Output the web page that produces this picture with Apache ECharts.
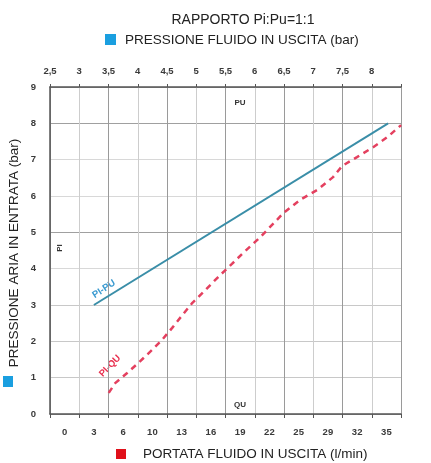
<!DOCTYPE html>
<html>
<head>
<meta charset="utf-8">
<script src="https://cdn.jsdelivr.net/npm/echarts@6/dist/echarts.min.js"></script>
<style>
html,body{margin:0;padding:0;background:#fff;}
#c{width:431px;height:463px;}
</style>
</head>
<body>
<div id="c"></div>
<script>
// Tick labels
const puTicks = [2.5, 3, 3.5, 4, 4.5, 5, 5.5, 6, 6.5, 7, 7.5, 8];      // top axis (bar)
const flowLabels = ['0','3','6','10','13','16','19','22','25','29','32','35']; // bottom axis (l/min)
// PI-PU line: outlet fluid pressure (top axis) vs inlet air pressure
const piPuOut = [3.25, 8.28];
const piPuIn  = [3, 8];
// PI-QU line: outlet flow (l/min) vs inlet air pressure
const piQuFlow = [4.8, 5.5, 6.8, 8.0, 9.5, 10.6, 11.7, 12.8, 13.9, 15.3, 16.7, 18.2, 19.4, 21.3, 23.8, 25.6, 27.5, 29.2, 30.2, 31.8, 33.6, 35.1, 36.6];
const piQuIn   = [0.58, 0.85, 1.13, 1.40, 1.76, 2.04, 2.37, 2.72, 3.06, 3.41, 3.77, 4.13, 4.43, 4.87, 5.53, 5.89, 6.17, 6.52, 6.83, 7.07, 7.35, 7.62, 7.95];

const flowStep = 35 / 11;
const FONT = '"Liberation Sans", Arial, sans-serif';
const tickLabel = {color:'#3a3a3a', fontSize:9.5, fontWeight:'bold', fontFamily:FONT};

const chart = echarts.init(document.getElementById('c'), null, {renderer:'canvas'});
chart.setOption({
  animation:false,
  backgroundColor:'#fff',
  grid:{left:50, right:30, top:87, bottom:49},
  xAxis:[
    { type:'value', position:'top', min:2.5, max:8.5, interval:0.5,
      axisLine:{show:true, onZero:false, lineStyle:{color:'#555', width:1.5}},
      axisTick:{show:true, length:3, lineStyle:{color:'#555'}},
      axisLabel:{...tickLabel, margin:11,
        formatter:v => puTicks.indexOf(v) >= 0 ? String(v).replace('.', ',') : ''},
      splitLine:{show:true, lineStyle:{color:['#9a9a9a','#cdcdcd'], width:1}}
    },
    { type:'category', position:'bottom', data:flowLabels, boundaryGap:true,
      axisLine:{show:true, onZero:false, lineStyle:{color:'#555', width:1.5}},
      axisTick:{show:true, length:4, interval:0, lineStyle:{color:'#555'}},
      axisLabel:{...tickLabel, margin:13, interval:0},
      splitLine:{show:false}
    },
    { type:'value', show:false, position:'bottom', min:-0.5*flowStep, max:11.5*flowStep,
      axisLine:{onZero:false}, splitLine:{show:false} }
  ],
  yAxis:{ type:'value', min:0, max:9, interval:1,
    axisLine:{show:true, onZero:false, lineStyle:{color:'#555', width:1.5}},
    axisTick:{show:false},
    axisLabel:{...tickLabel, margin:14},
    splitLine:{show:true, lineStyle:{color:['#999','#c8c8c8','#c8c8c8','#c8c8c8','#d8d8d8','#a0a0a0','#d8d8d8','#d8d8d8','#a0a0a0','#999'], width:1}}
  },
  series:[
    { type:'line', xAxisIndex:0, showSymbol:false, symbol:'none',
      data: piPuOut.map((x,i)=>[x, piPuIn[i]]),
      lineStyle:{color:'#3a8ea8', width:2}
    },
    { type:'line', xAxisIndex:2, showSymbol:false, symbol:'none',
      data: piQuFlow.map((x,i)=>[x, piQuIn[i]]),
      lineStyle:{color:'#e4405f', width:2.5, type:[6,5]}
    }
  ],
  graphic:[
    {type:'text', x:243, y:20, style:{text:'RAPPORTO Pi:Pu=1:1', font:'14px '+FONT, fill:'#222', textAlign:'center', textVerticalAlign:'middle'}},
    {type:'rect', shape:{x:105, y:34, width:11, height:11}, style:{fill:'#1a9fe0'}},
    {type:'text', x:125, y:40, style:{text:'PRESSIONE FLUIDO IN USCITA (bar)', font:'13.5px '+FONT, fill:'#222', textAlign:'left', textVerticalAlign:'middle'}},
    {type:'rect', shape:{x:116, y:449, width:10, height:10}, style:{fill:'#e0101a'}},
    {type:'text', x:143, y:454, style:{text:'PORTATA FLUIDO IN USCITA (l/min)', font:'13.5px '+FONT, fill:'#222', textAlign:'left', textVerticalAlign:'middle'}},
    {type:'rect', shape:{x:3, y:376, width:10, height:11}, style:{fill:'#1a9fe0'}},
    {type:'text', x:14, y:253, rotation:Math.PI/2, style:{text:'PRESSIONE ARIA IN ENTRATA (bar)', font:'13.5px '+FONT, fill:'#222', textAlign:'center', textVerticalAlign:'middle'}},
    {type:'text', x:240, y:103, style:{text:'PU', font:'bold 8px '+FONT, fill:'#333', textAlign:'center', textVerticalAlign:'middle'}},
    {type:'text', x:240, y:405, style:{text:'QU', font:'bold 8px '+FONT, fill:'#333', textAlign:'center', textVerticalAlign:'middle'}},
    {type:'text', x:60, y:248, rotation:Math.PI/2, style:{text:'PI', font:'bold 8px '+FONT, fill:'#333', textAlign:'center', textVerticalAlign:'middle'}},
    {type:'text', x:104, y:289, rotation:0.58, style:{text:'PI-PU', font:'bold 9.5px '+FONT, fill:'#3a9ad0', textAlign:'center', textVerticalAlign:'middle'}},
    {type:'text', x:110, y:366, rotation:0.8, style:{text:'PI-QU', font:'bold 9.5px '+FONT, fill:'#e8304f', textAlign:'center', textVerticalAlign:'middle'}}
  ]
});
</script>
</body>
</html>
